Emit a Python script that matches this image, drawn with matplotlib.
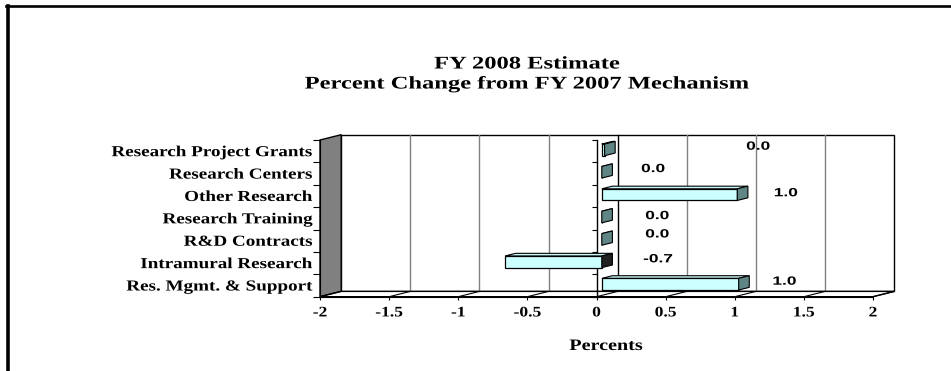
import numpy as np
import matplotlib
matplotlib.use("Agg")
import matplotlib.pyplot as plt
from matplotlib.patches import Polygon
from matplotlib.lines import Line2D
from matplotlib import transforms, patheffects

# data
categories = ["Research Project Grants", "Research Centers", "Other Research",
              "Research Training", "R&D Contracts", "Intramural Research",
              "Res. Mgmt. & Support"]
pct_change = [0.02, 0.0, 0.98, 0.0, 0.0, -0.70, 0.99]
value_labels = ["0.0", "0.0", "1.0", "0.0", "0.0", "-0.7", "1.0"]
xticks = [-2, -1.5, -1, -0.5, 0, 0.5, 1, 1.5, 2]
xtick_labels = ["-2", "-1.5", "-1", "-0.5", "0", "0.5", "1", "1.5", "2"]

# where excel dropped the data labels (x in percent units, y shift in rows)
label_x = [1.17, 0.41, 1.37, 0.44, 0.44, 0.445, 1.36]
label_dy = [-0.2, -0.2, -0.12, -0.1, -0.28, -0.17, -0.17]

W, H = 951, 371
DX, DY = 21.2, 5.3          # depth of the fake 3d box, pixels
BH = 0.52                   # bar thickness (rows)
F1, F2 = 0.25, 0.75         # bar front / back depth fraction
SERIF = "Liberation Serif"
SANS = "Liberation Sans"


class HStretch(patheffects.AbstractPathEffect):
    """the original picture was stretched sideways, so widen the glyphs"""
    def __init__(self, sx, anchor="center"):
        super().__init__()
        self.sx = sx
        self.anchor = anchor

    def draw_path(self, renderer, gc, tpath, affine, rgbFace=None):
        ext = tpath.get_extents(affine)
        x0 = {"left": ext.x0, "center": 0.5 * (ext.x0 + ext.x1), "right": ext.x1}[self.anchor]
        st = affine + transforms.Affine2D().translate(-x0, 0).scale(self.sx, 1).translate(x0, 0)
        renderer.draw_path(gc, tpath, st, rgbFace)


fig = plt.figure(figsize=(W / 100, H / 100), dpi=100)
fig.patch.set_facecolor("white")
ax = fig.add_axes([320 / W, (H - 296.7) / H, 553 / W, 156.7 / H])
ax.set_xlim(-2, 2)
ax.set_ylim(len(categories) - 0.5, -0.5)
ax.set_facecolor("none")
n = len(categories)
ytop, ybot = -0.5, n - 0.5


def face(pts, z, **kw):
    # pts = (x, y, depth fraction) -> pixel polygon
    xy = [ax.transData.transform((x, y)) + np.array([DX * f, DY * f]) for x, y, f in pts]
    p = Polygon(xy, closed=True, transform=transforms.IdentityTransform(),
                clip_on=False, zorder=z, **kw)
    ax.add_artist(p)
    return p


def depth(f):
    return ax.transData + transforms.Affine2D().translate(DX * f, DY * f)


# walls and floor
face([(-2, ytop, 1), (2, ytop, 1), (2, ybot, 1), (-2, ybot, 1)], 1,
     fc="white", ec="black", lw=1.0)
face([(-2, ytop, 0), (-2, ybot, 0), (-2, ybot, 1), (-2, ytop, 1)], 2,
     fc="#808080", ec="black", lw=1.0)
face([(-2, ybot, 0), (2, ybot, 0), (2, ybot, 1), (-2, ybot, 1)], 2,
     fc="white", ec="black", lw=1.0)

for t in xticks[1:-1]:
    c = "black" if t == 0 else "#808080"
    ax.plot([t, t], [ytop, ybot], transform=depth(1), color=c, lw=1.0,
            clip_on=False, zorder=1.5)
for t in xticks:
    face([(t, ybot, 0), (t, ybot, 1), (t, ybot, 1)], 2.5, fc="none", ec="black", lw=0.8)

# category axis drawn at zero
bounds = np.arange(-0.5, n, 1.0)
ax.plot([0, 0], [ytop, ybot], color="black", lw=1.0, clip_on=False, zorder=3)
ax.plot(np.zeros(len(bounds)), bounds, ls="none", marker=0, ms=3.6, mew=0.8,
        color="black", clip_on=False, zorder=3)

# bars
for i, v in enumerate(pct_change):
    yt, yb = i - BH / 2, i + BH / 2
    x0, x1 = min(0, v), max(0, v)
    face([(x0, yt, F1), (x1, yt, F1), (x1, yt, F2), (x0, yt, F2)], 4,
         fc="#C6F6F6", ec="black", lw=0.8)
    face([(x0, yt, F1), (x1, yt, F1), (x1, yb, F1), (x0, yb, F1)], 4,
         fc="#CCFFFF", ec="black", lw=0.9)
    face([(x1, yt, F1), (x1, yt, F2), (x1, yb, F2), (x1, yb, F1)], 4.5,
         fc="#608585" if v >= 0 else "#202020", ec="black", lw=0.8)

for i, s in enumerate(value_labels):
    ax.text(label_x[i], i + label_dy[i], s, ha="center", va="center",
            family=SANS, weight="bold", fontsize=8.6, zorder=6, clip_on=False,
            path_effects=[HStretch(1.45)])

# axes decoration
for side in ["top", "right"]:
    ax.spines[side].set_visible(False)
ax.spines["left"].set_zorder(3)
ax.spines["bottom"].set_zorder(3)
ax.set_xticks(xticks, xtick_labels)
ax.set_yticks(range(n), categories)
ax.set_yticks(bounds, minor=True)
ax.tick_params(axis="x", length=2.5, width=0.8, pad=4.5)
ax.tick_params(axis="y", which="major", length=0, pad=5.4)
ax.tick_params(axis="y", which="minor", length=5, width=0.8)
for lab in ax.get_xticklabels():
    lab.set_family(SERIF)
    lab.set_weight("bold")
    lab.set_fontsize(10.5)
    lab.set_path_effects([HStretch(1.2)])
for lab in ax.get_yticklabels():
    lab.set_family(SERIF)
    lab.set_weight("bold")
    lab.set_fontsize(11)
    lab.set_path_effects([HStretch(1.25, "right")])

fig.text(606 / W, 1 - 346 / H, "Percents", ha="center", va="center",
         family=SERIF, weight="bold", fontsize=11.5, path_effects=[HStretch(1.26)])
fig.text(527 / W, 1 - 68.5 / H, "FY 2008 Estimate", ha="center", va="baseline",
         family=SERIF, weight="bold", fontsize=12.8, path_effects=[HStretch(1.38)])
fig.text(527 / W, 1 - 88.5 / H, "Percent Change from FY 2007 Mechanism", ha="center",
         va="baseline", family=SERIF, weight="bold", fontsize=12.8,
         path_effects=[HStretch(1.38)])

# chart frame (only left and top edges fall inside the picture)
fig.add_artist(Line2D([8 / W, 8 / W], [0, 1 - 6 / H], transform=fig.transFigure,
                      color="black", lw=2.6))
fig.add_artist(Line2D([6.2 / W, 1], [1 - 6 / H, 1 - 6 / H], transform=fig.transFigure,
                      color="black", lw=1.9))

fig.savefig("out.png", dpi=100)
